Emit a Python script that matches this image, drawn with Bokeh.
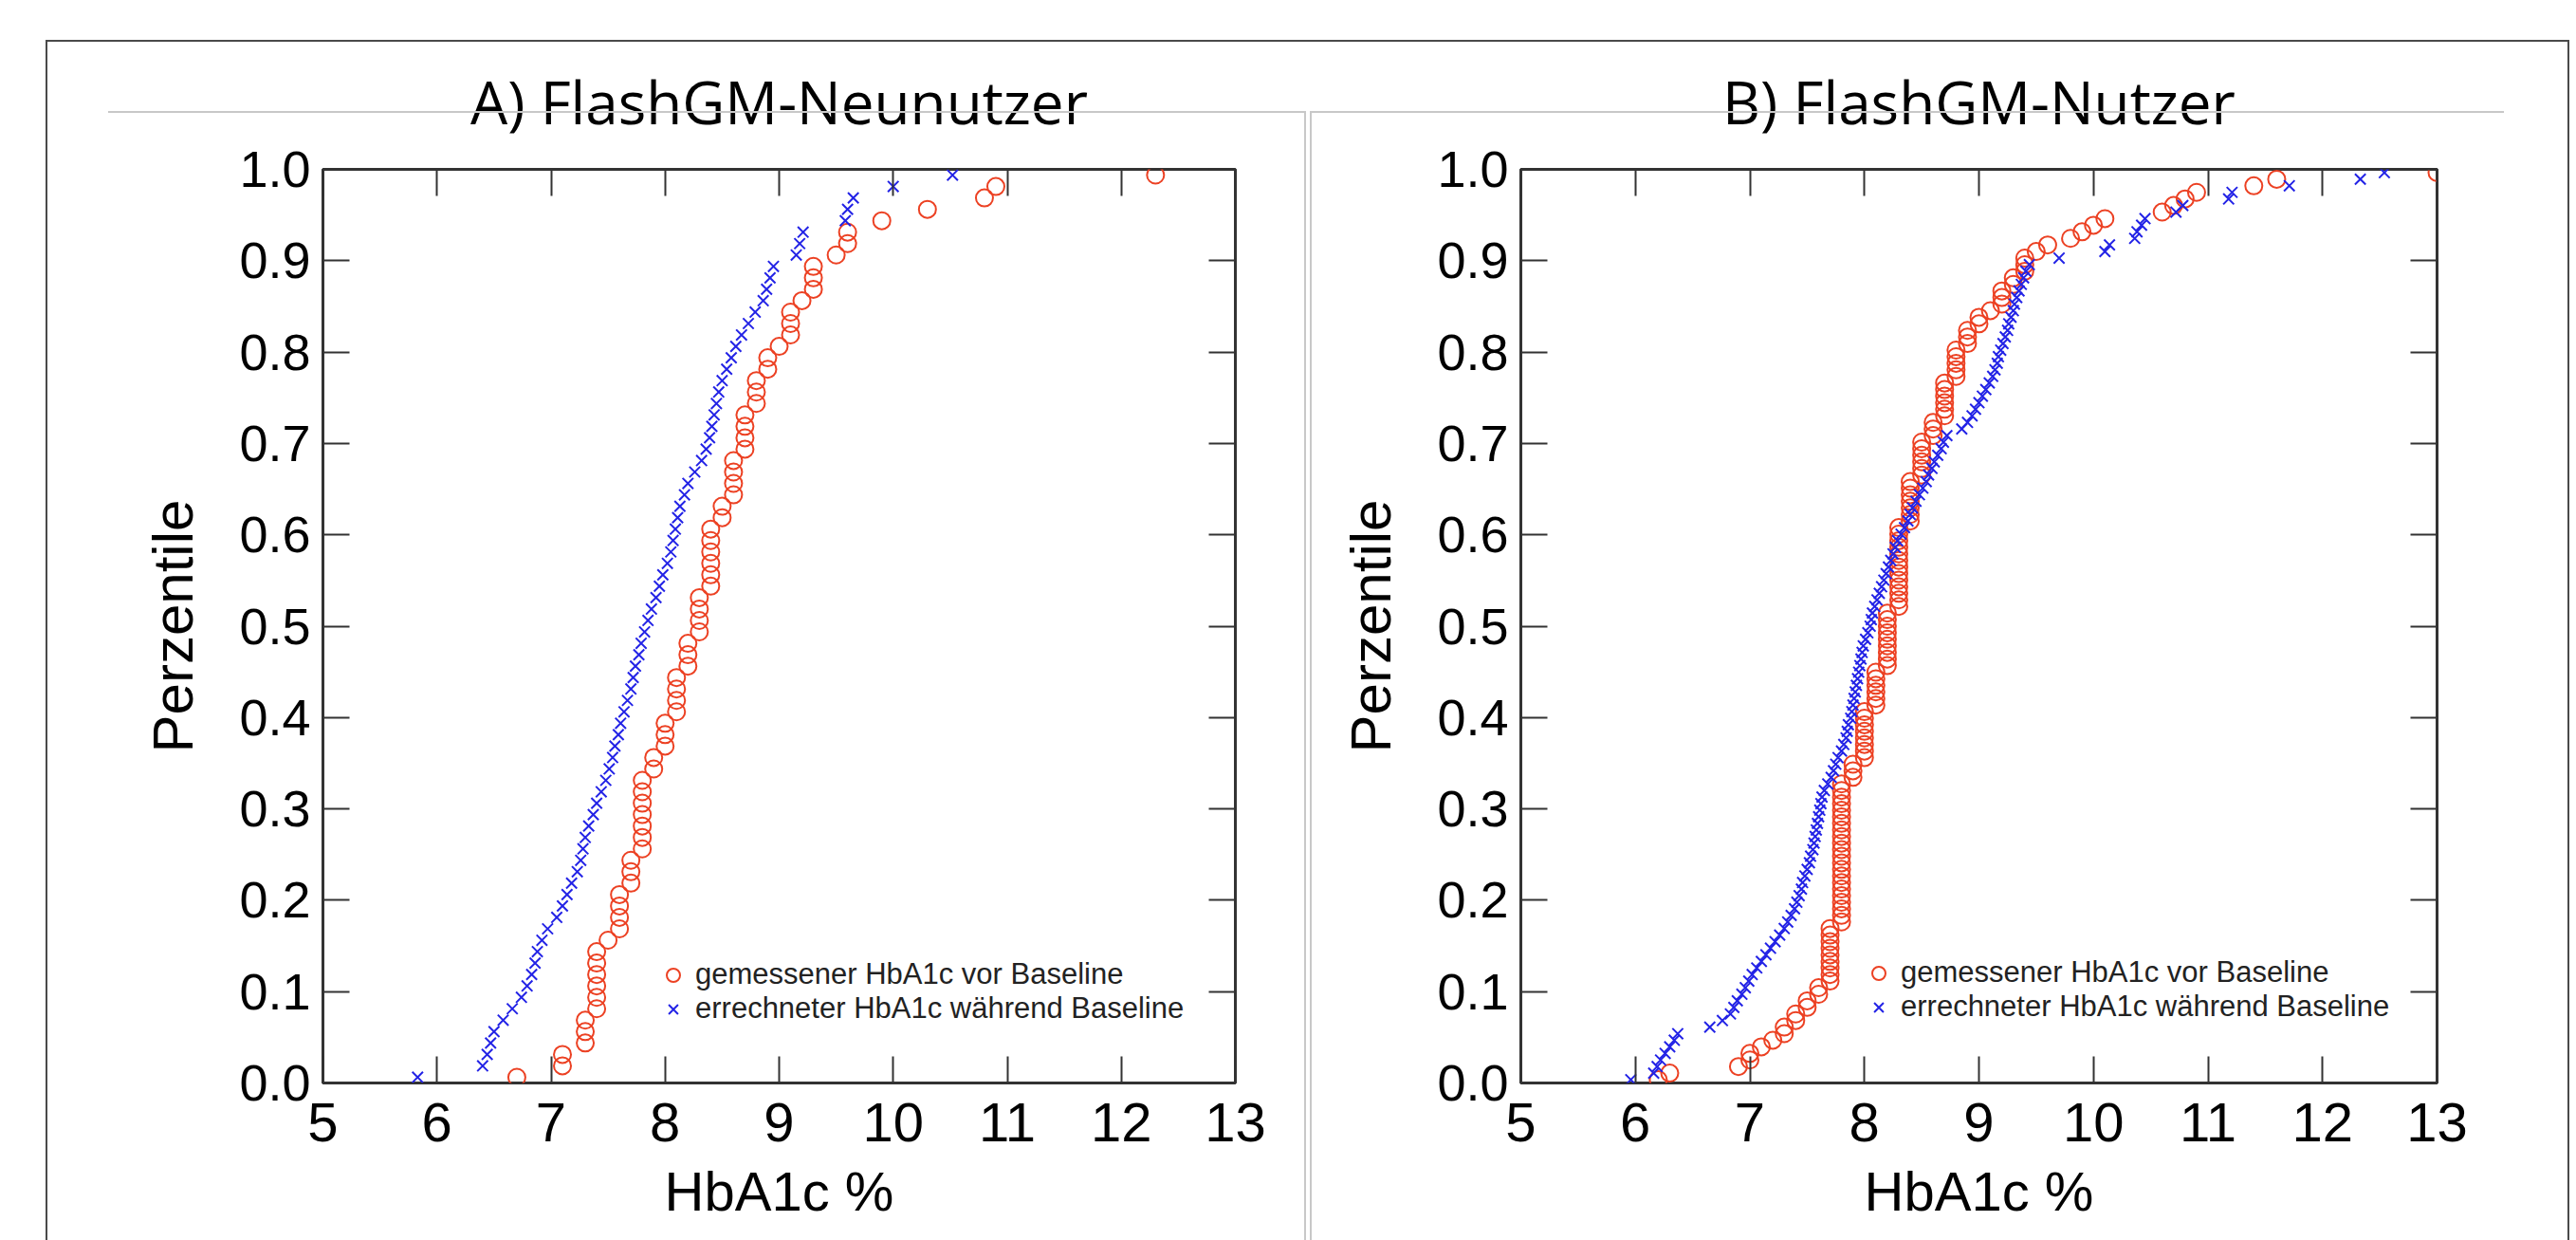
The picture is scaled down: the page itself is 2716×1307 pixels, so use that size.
import numpy as np
from bokeh.plotting import figure
from bokeh.models import (Range1d, FixedTicker, LinearAxis, Legend, LegendItem,
                          PrintfTickFormatter, InlineStyleSheet)
from bokeh.layouts import row
from bokeh.embed import file_html
from bokeh.resources import INLINE

# ---------------- data ----------------
x_ticks = [5, 6, 7, 8, 9, 10, 11, 12, 13]
y_ticks = [0.0, 0.1, 0.2, 0.3, 0.4, 0.5, 0.6, 0.7, 0.8, 0.9, 1.0]
titles = ["A) FlashGM-Neunutzer", "B) FlashGM-Nutzer"]
legend_labels = ["gemessener HbA1c vor Baseline", "errechneter HbA1c während Baseline"]
x_label = "HbA1c %"
y_label = "Perzentile"

# Panel A: measured HbA1c before baseline (value, number of patients)
a_meas_values = [6.7, 7.1, 7.3, 7.4, 7.5, 7.6, 7.7, 7.8, 7.9, 8.0, 8.1, 8.2, 8.3, 8.4, 8.5,
                 8.6, 8.7, 8.8, 8.9, 9.0, 9.1, 9.2, 9.3, 9.5, 9.6, 9.9, 10.3, 10.8, 10.9, 12.3]
a_meas_counts = [1, 2, 3, 6, 1, 4, 3, 7, 2, 3, 4, 3, 4, 6, 2,
                 4, 4, 3, 2, 1, 3, 1, 3, 1, 2, 1, 1, 1, 1, 1]
# Panel A: calculated HbA1c during baseline
a_calc_values = [5.83, 6.40, 6.44, 6.47, 6.50, 6.58, 6.66, 6.74, 6.79, 6.83,
                 6.86, 6.88, 6.92, 6.97, 7.05, 7.10, 7.14, 7.18, 7.23, 7.26,
                 7.28, 7.30, 7.33, 7.37, 7.40, 7.44, 7.48, 7.51, 7.54, 7.56,
                 7.59, 7.61, 7.64, 7.67, 7.70, 7.72, 7.74, 7.77, 7.79, 7.82,
                 7.85, 7.88, 7.92, 7.95, 7.98, 8.02, 8.05, 8.07, 8.09, 8.11,
                 8.13, 8.17, 8.20, 8.26, 8.32, 8.36, 8.39, 8.41, 8.43, 8.45,
                 8.47, 8.50, 8.54, 8.58, 8.62, 8.67, 8.73, 8.79, 8.86, 8.89,
                 8.92, 8.95, 9.15, 9.18, 9.21, 9.58, 9.60, 9.65, 10.00, 10.52]

# Panel B: measured HbA1c before baseline (value, number of patients)
b_meas_values = [6.2, 6.3, 6.9, 7.0, 7.1, 7.2, 7.3, 7.4, 7.5, 7.6, 7.7, 7.8, 7.9, 8.0,
                 8.1, 8.2, 8.3, 8.4, 8.5, 8.6, 8.7, 8.8, 8.9, 9.0, 9.1, 9.2, 9.3, 9.4,
                 9.5, 9.6, 9.8, 9.9, 10.0, 10.1, 10.6, 10.7, 10.8, 10.9, 11.4, 11.6, 13.0]
b_meas_counts = [1, 1, 1, 2, 1, 1, 2, 2, 2, 2, 9, 22, 3, 8,
                 6, 9, 13, 7, 6, 3, 6, 5, 3, 2, 1, 3, 2, 3,
                 1, 1, 1, 1, 1, 1, 1, 1, 1, 1, 1, 1, 1]
# Panel B: calculated HbA1c during baseline
b_calc_values = [5.96, 6.16, 6.19, 6.22, 6.26, 6.30, 6.34, 6.37, 6.65, 6.76,
                 6.83, 6.86, 6.89, 6.93, 6.96, 6.99, 7.02, 7.06, 7.10, 7.14,
                 7.18, 7.22, 7.26, 7.30, 7.33, 7.36, 7.39, 7.41, 7.43, 7.45,
                 7.46, 7.48, 7.50, 7.52, 7.53, 7.55, 7.56, 7.57, 7.58, 7.59,
                 7.60, 7.61, 7.62, 7.63, 7.65, 7.68, 7.71, 7.73, 7.75, 7.77,
                 7.80, 7.82, 7.84, 7.85, 7.86, 7.88, 7.89, 7.90, 7.91, 7.92,
                 7.93, 7.94, 7.95, 7.96, 7.97, 7.98, 7.99, 8.01, 8.03, 8.05,
                 8.06, 8.07, 8.09, 8.11, 8.13, 8.15, 8.17, 8.19, 8.21, 8.23,
                 8.25, 8.27, 8.29, 8.32, 8.35, 8.38, 8.40, 8.42, 8.45, 8.48,
                 8.51, 8.54, 8.56, 8.59, 8.61, 8.64, 8.67, 8.69, 8.72, 8.85,
                 8.90, 8.94, 8.97, 9.00, 9.03, 9.06, 9.09, 9.12, 9.14, 9.16,
                 9.17, 9.19, 9.21, 9.23, 9.25, 9.26, 9.28, 9.30, 9.31, 9.33,
                 9.35, 9.37, 9.39, 9.41, 9.44, 9.70, 10.10, 10.14, 10.36, 10.38,
                 10.42, 10.45, 10.72, 10.78, 11.18, 11.21, 11.71, 12.33, 12.54]

# ---------------- style ----------------
RED = "#ec4123"
BLUE = "#2323e6"
FRAME = "#333333"
GREY = "#c8c8c8"
OUTER = "#4a4a4a"
H = 1307


def ecdf(vals):
    v = np.sort(np.asarray(vals, dtype=float))
    n = len(v)
    return v, (np.arange(n) + 0.5) / n


def panel(title, meas_x, calc_x, W, fl, fr, ft, fb, leg_loc, css):
    p = figure(width=W, height=H, x_range=Range1d(5, 13), y_range=Range1d(0, 1),
               output_backend="svg", toolbar_location=None,
               min_border_left=fl, min_border_right=W - fr,
               min_border_top=ft, min_border_bottom=H - fb,
               x_axis_label=x_label, y_axis_label=y_label,
               background_fill_color="white", border_fill_color="white",
               stylesheets=[InlineStyleSheet(css=css)])
    p.title.text = title
    p.title.align = "center"
    p.title.text_font = "Open Sans"
    p.title.text_font_size = "62px"
    p.title.text_font_style = "normal"
    p.title.text_color = "#000000"
    p.title.standoff = 60

    p.grid.visible = False
    p.outline_line_color = FRAME
    p.outline_line_width = 3

    xa = p.xaxis[0]
    ya = p.yaxis[0]
    xa.ticker = FixedTicker(ticks=x_ticks)
    ya.ticker = FixedTicker(ticks=y_ticks)
    ya.formatter = PrintfTickFormatter(format="%.1f")
    top = LinearAxis(ticker=FixedTicker(ticks=x_ticks), major_label_text_color=None,
                     major_label_text_font_size="1px")
    right = LinearAxis(ticker=FixedTicker(ticks=y_ticks), major_label_text_color=None,
                       major_label_text_font_size="1px")
    p.add_layout(top, "above")
    p.add_layout(right, "right")
    for ax in (xa, ya, top, right):
        ax.axis_line_color = None
        ax.major_tick_in = 28
        ax.major_tick_out = 0
        ax.minor_tick_line_color = None
        ax.major_tick_line_color = FRAME
        ax.major_tick_line_width = 2
    for ax in (xa, ya):
        ax.major_label_text_font = "Liberation Sans"
        ax.major_label_text_color = "#000000"
        ax.axis_label_text_font = "Liberation Sans"
        ax.axis_label_text_font_style = "normal"
        ax.axis_label_text_color = "#000000"
    xa.axis_label_text_font_size = "58px"
    ya.axis_label_text_font_size = "60px"
    xa.major_label_text_font_size = "58px"
    xa.major_label_standoff = 21
    xa.axis_label_standoff = 17
    ya.major_label_text_font_size = "54px"
    ya.major_label_standoff = 13
    ya.axis_label_standoff = 33

    mx, my = ecdf(meas_x)
    cx, cy = ecdf(calc_x)
    r1 = p.scatter(mx, my, marker="circle", size=18, fill_color=None,
                   line_color=RED, line_width=2)
    r2 = p.scatter(cx, cy, marker="x", size=16, line_color=BLUE, line_width=2)

    leg = Legend(items=[LegendItem(label=legend_labels[0], renderers=[r1]),
                        LegendItem(label=legend_labels[1], renderers=[r2])],
                 location=leg_loc, glyph_width=35, glyph_height=35, label_height=35,
                 label_standoff=6, spacing=0, padding=0, margin=0,
                 label_text_font="Liberation Sans", label_text_font_size="31px",
                 label_text_color="#222222", border_line_color=None,
                 background_fill_alpha=0.0)
    p.add_layout(leg)
    return p


a_meas = np.repeat(a_meas_values, a_meas_counts)
b_meas = np.repeat(b_meas_values, b_meas_counts)

WA = 1379
WB = 2716 - WA

css_a = f"""
:host {{ position: relative; }}
:host::before {{ content: ""; position: absolute; left: 48px; top: 42px; right: 0; bottom: 0;
  border-top: 2px solid {OUTER}; border-left: 2px solid {OUTER}; pointer-events: none; z-index: 5; }}
:host::after {{ content: ""; position: absolute; left: 114px; top: 117px; width: 1263px; bottom: 0;
  box-sizing: border-box; border-top: 2px solid {GREY}; border-right: 2px solid {GREY};
  pointer-events: none; z-index: 4; }}
"""
css_b = f"""
:host {{ position: relative; }}
:host::before {{ content: ""; position: absolute; left: 0; top: 42px; width: 1330px; bottom: 0;
  box-sizing: border-box; border-top: 2px solid {OUTER}; border-right: 2px solid {OUTER};
  pointer-events: none; z-index: 5; }}
:host::after {{ content: ""; position: absolute; left: 2px; top: 117px; width: 1259px; bottom: 0;
  box-sizing: border-box; border-top: 2px solid {GREY}; border-left: 2px solid {GREY};
  pointer-events: none; z-index: 4; }}
"""

pA = panel(titles[0], a_meas, a_calc_values, WA, 340, 1302, 178, 1141, (352, 60), css_a)
pB = panel(titles[1], b_meas, b_calc_values, WB, 224, 1190, 177, 1145, (360, 62), css_b)

layout = row(pA, pB)
open("out.html", "w").write(file_html(layout, INLINE))
